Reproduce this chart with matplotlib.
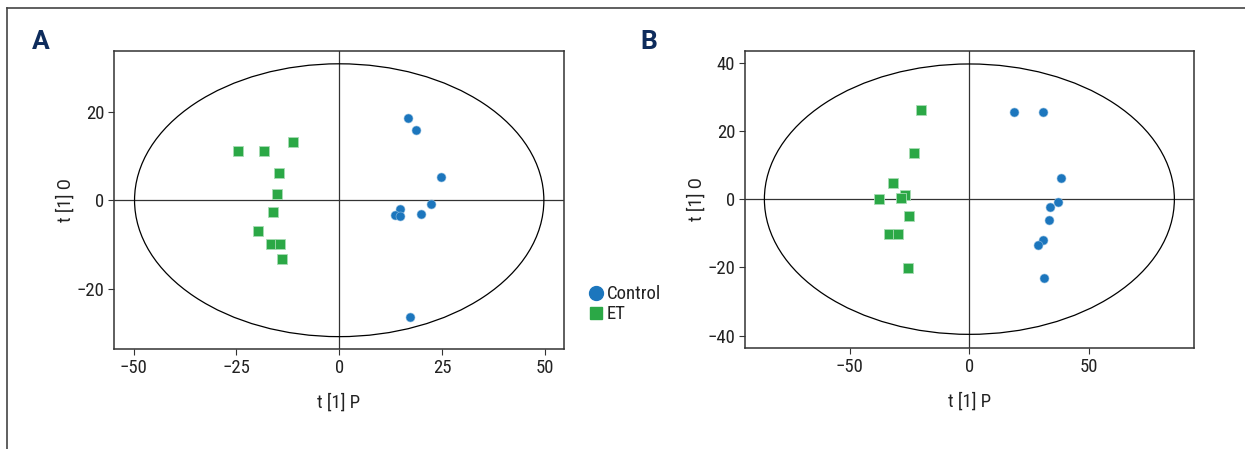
import matplotlib.pyplot as plt
from matplotlib.patches import Ellipse
from matplotlib.lines import Line2D

# panel A scores
a_ctrl_x = [16.7, 18.7, 24.8, 22.4, 14.9, 13.6, 14.9, 20.0, 17.2]
a_ctrl_y = [18.6, 15.9, 5.2, -0.8, -2.0, -3.4, -3.6, -3.1, -26.5]
a_et_x = [-24.6, -18.3, -11.2, -14.7, -15.2, -16.0, -19.7, -16.5, -14.4, -13.8]
a_et_y = [11.1, 11.1, 13.1, 6.2, 1.5, -2.6, -6.9, -9.9, -9.9, -13.4]
a_ellipse = (49.8, 30.9)

# panel B scores
b_ctrl_x = [18.8, 30.8, 38.2, 37.2, 33.6, 33.1, 30.9, 28.8, 31.3]
b_ctrl_y = [25.5, 25.4, 6.3, -0.9, -2.3, -6.0, -12.0, -13.5, -23.0]
b_et_x = [-20.0, -23.1, -32.0, -37.9, -27.0, -28.4, -25.3, -33.7, -30.0, -25.6]
b_et_y = [26.0, 13.5, 4.6, 0.0, 1.1, 0.3, -4.8, -10.3, -10.3, -20.2]
b_ellipse = (85.6, 39.6)

plt.rcParams['font.family'] = ['Roboto Condensed', 'DejaVu Sans']
plt.rcParams['font.stretch'] = 'condensed'

W, H = 1245, 449
fig = plt.figure(figsize=(W / 100, H / 100), dpi=100)

blue = '#1c76bd'
green = '#2ba846'


def px_axes(left, top, right, bottom):
    return fig.add_axes([left / W, 1 - bottom / H, (right - left) / W, (bottom - top) / H])


def draw_panel(ax, cx, cy, ex, ey, ell, xlim, ylim, xticks, yticks):
    ax.axhline(0, color='#333333', lw=0.9, zorder=1)
    ax.axvline(0, color='#333333', lw=0.9, zorder=1)
    ax.add_patch(Ellipse((0, 0), 2 * ell[0], 2 * ell[1], fill=False,
                         ec='black', lw=0.9, zorder=1))
    ax.scatter(cx, cy, s=42, marker='o', color=blue, edgecolors='#8fbde0',
               linewidths=0.4, zorder=3, label='Control')
    ax.scatter(ex, ey, s=42, marker='s', color=green, edgecolors='#a8dcb4',
               linewidths=0.6, zorder=3, label='ET')
    ax.set_xlim(xlim)
    ax.set_ylim(ylim)
    ax.set_xticks(xticks)
    ax.set_yticks(yticks)
    ax.tick_params(labelsize=13.5, length=4, width=0.8, color='#333333',
                   labelcolor='#222222', pad=3)
    for s in ax.spines.values():
        s.set_color('#333333')
        s.set_linewidth(1.1)
    ax.set_xlabel('t [1] P', fontsize=13.5, color='#222222', labelpad=12)
    ax.set_ylabel('t [1] O', fontsize=13.5, color='#222222', labelpad=1)


axA = px_axes(114, 51, 564, 349)
draw_panel(axA, a_ctrl_x, a_ctrl_y, a_et_x, a_et_y, a_ellipse,
           (-54.8, 54.7), (-33.7, 33.8), [-50, -25, 0, 25, 50], [-20, 0, 20])

axB = px_axes(745, 51, 1194, 348)
draw_panel(axB, b_ctrl_x, b_ctrl_y, b_et_x, b_et_y, b_ellipse,
           (-93.7, 93.8), (-43.6, 43.4), [-50, 0, 50], [-40, -20, 0, 20, 40])

fig.text(32 / W, 1 - 42 / H, 'A', fontsize=19, fontweight='bold',
         color='#0e2c5c', va='center', family=['Roboto', 'DejaVu Sans'],
         stretch='normal')
fig.text(640 / W, 1 - 42 / H, 'B', fontsize=19, fontweight='bold',
         color='#0e2c5c', va='center', family=['Roboto', 'DejaVu Sans'],
         stretch='normal')

handles = [
    Line2D([], [], marker='o', ls='none', color=blue, markersize=10),
    Line2D([], [], marker='s', ls='none', color=green, markersize=9),
]
fig.legend(handles, ['Control', 'ET'], loc='upper left',
           bbox_to_anchor=(579 / W, 1 - 276 / H), frameon=False,
           fontsize=13.5, handlelength=0.8, handletextpad=0.2,
           labelspacing=0.1, borderpad=0, labelcolor='#222222')

# thin frame lines at the top and left of the figure
fig.add_artist(Line2D([7 / W, 1], [1 - 8 / H, 1 - 8 / H], color='#444444', lw=1.2))
fig.add_artist(Line2D([7 / W, 7 / W], [0, 1 - 8 / H], color='#444444', lw=1.2))

fig.savefig('out.png', dpi=100)
